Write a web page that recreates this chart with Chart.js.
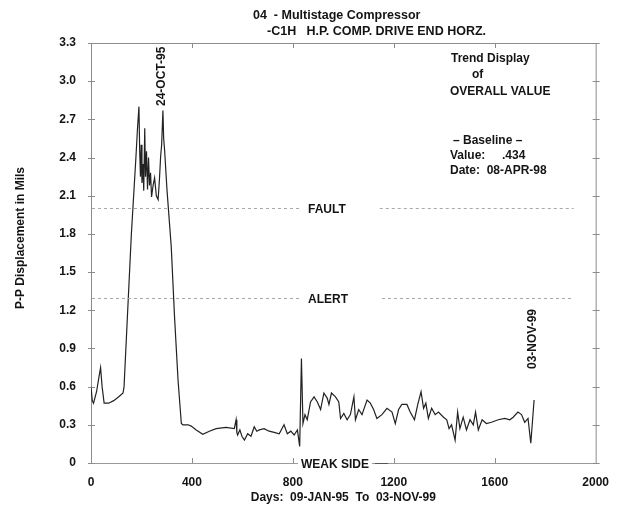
<!DOCTYPE html>
<html>
<head>
<meta charset="utf-8">
<script src="https://cdn.jsdelivr.net/npm/chart.js@4.4.0/dist/chart.umd.min.js"></script>
<style>
  html, body { margin: 0; padding: 0; background: #fff; }
</style>
</head>
<body>
<canvas id="trend_chart" width="621" height="514"></canvas>
<script>
// days since 09-JAN-95 and overall P-P displacement (mils)
var days = [0, 5, 10, 22, 32, 38, 44, 52, 70, 90, 110, 127, 131, 160, 178, 184, 190, 193, 196, 199,
    202, 206, 209, 213, 216, 220, 224, 228, 232, 236, 240, 246, 252, 259, 266, 271, 276, 280, 285, 288,
    292, 301, 318, 331, 345, 358, 364, 385, 397, 417, 443, 469, 496, 535, 568, 575, 578, 581, 590, 598,
    608, 621, 634, 647, 657, 667, 686, 706, 726, 746, 765, 778, 792, 805, 818, 827, 834, 840, 848, 857,
    870, 884, 897, 910, 923, 936, 943, 953, 969, 982, 989, 1002, 1015, 1028, 1042, 1048, 1061, 1074, 1094, 1107,
    1120, 1133, 1153, 1173, 1193, 1206, 1219, 1232, 1252, 1265, 1282, 1295, 1308, 1318, 1327, 1337, 1350, 1364, 1377, 1397,
    1410, 1419, 1429, 1443, 1453, 1462, 1475, 1488, 1502, 1515, 1524, 1535, 1550, 1567, 1587, 1614, 1640, 1660, 1673, 1692,
    1706, 1719, 1732, 1743, 1756];
var mils = [0.60, 0.49, 0.47, 0.56, 0.68, 0.75, 0.60, 0.47, 0.47, 0.49, 0.52, 0.55, 0.60, 1.80, 2.40, 2.62, 2.80, 2.45, 2.25, 2.50,
    2.20, 2.35, 2.14, 2.63, 2.25, 2.45, 2.15, 2.40, 2.18, 2.28, 2.09, 2.18, 2.24, 2.10, 2.07, 2.22, 2.41, 2.50, 2.77, 2.55,
    2.45, 2.15, 1.70, 1.15, 0.65, 0.31, 0.30, 0.30, 0.29, 0.26, 0.225, 0.25, 0.27, 0.28, 0.27, 0.34, 0.24, 0.22, 0.26, 0.21,
    0.18, 0.23, 0.21, 0.285, 0.25, 0.26, 0.27, 0.25, 0.24, 0.23, 0.30, 0.23, 0.25, 0.22, 0.26, 0.13, 0.82, 0.31, 0.38, 0.34,
    0.48, 0.52, 0.48, 0.42, 0.55, 0.51, 0.46, 0.55, 0.52, 0.48, 0.35, 0.39, 0.34, 0.38, 0.52, 0.34, 0.42, 0.38, 0.495, 0.47,
    0.42, 0.35, 0.38, 0.43, 0.40, 0.31, 0.42, 0.46, 0.46, 0.40, 0.34, 0.46, 0.56, 0.43, 0.47, 0.35, 0.43, 0.38, 0.40, 0.36,
    0.34, 0.27, 0.30, 0.18, 0.40, 0.27, 0.36, 0.26, 0.34, 0.30, 0.40, 0.26, 0.34, 0.31, 0.32, 0.34, 0.35, 0.34, 0.36, 0.40,
    0.38, 0.32, 0.35, 0.155, 0.495];

var xTicks = [0, 400, 800, 1200, 1600, 2000];
var xTickLabels = ['0', '400', '800', '1200', '1600', '2000'];
var yTicks = [0, 0.3, 0.6, 0.9, 1.2, 1.5, 1.8, 2.1, 2.4, 2.7, 3.0, 3.3];
var yTickLabels = ['0', '0.3', '0.6', '0.9', '1.2', '1.5', '1.8', '2.1', '2.4', '2.7', '3.0', '3.3'];

var limitLevels = [2.0, 1.3, 0];
var limitLabels = ['FAULT', 'ALERT', 'WEAK SIDE'];

var markerDays = [288, 1759];
var markerLabels = ['24-OCT-95', '03-NOV-99'];

var titleLines = ['04  - Multistage Compressor', '-C1H   H.P. COMP. DRIVE END HORZ.'];
var infoLines = ['Trend Display', 'of', 'OVERALL VALUE', '\u2013 Baseline \u2013', 'Value:     .434', 'Date:  08-APR-98'];

var FONT = "'Liberation Sans', Arial, sans-serif";
var INK = '#141414';
var AXIS = '#8c8c8c';

var decor = {
    id: 'decor',
    afterDraw: function (chart) {
        var ctx = chart.ctx;
        var a = chart.chartArea;
        var xs = chart.scales.x;
        var ys = chart.scales.y;
        var i, y, x;
        ctx.save();

        // top and right frame
        ctx.strokeStyle = AXIS;
        ctx.lineWidth = 1;
        ctx.beginPath();
        ctx.moveTo(a.left, a.top + 0.5);
        ctx.lineTo(a.right, a.top + 0.5);
        ctx.moveTo(a.right + 0.5, a.top);
        ctx.lineTo(a.right + 0.5, a.bottom);
        ctx.stroke();

        // tick marks
        ctx.beginPath();
        for (i = 0; i < yTicks.length; i++) {
            y = Math.round(ys.getPixelForValue(yTicks[i])) + 0.5;
            ctx.moveTo(a.left - 3, y); ctx.lineTo(a.left + 4, y);
            ctx.moveTo(a.right - 3, y); ctx.lineTo(a.right + 4, y);
        }
        for (i = 1; i < xTicks.length - 1; i++) {
            x = Math.round(xs.getPixelForValue(xTicks[i])) + 0.5;
            ctx.moveTo(x, a.top); ctx.lineTo(x, a.top + 5);
            ctx.moveTo(x, a.bottom); ctx.lineTo(x, a.bottom - 5);
        }
        ctx.stroke();

        // limit lines with their labels
        ctx.font = 'bold 12px ' + FONT;
        ctx.textBaseline = 'middle';
        ctx.textAlign = 'left';
        for (i = 0; i < limitLevels.length; i++) {
            y = Math.round(ys.getPixelForValue(limitLevels[i])) + 0.5;
            var tx = a.left + (i === 2 ? 210 : 217);
            var tw = ctx.measureText(limitLabels[i]).width;
            ctx.strokeStyle = '#a8a8a8';
            ctx.setLineDash([3, 3]);
            ctx.beginPath();
            if (i < 2) {
                ctx.moveTo(a.left + 1, y); ctx.lineTo(tx - 9, y);
                ctx.moveTo(tx + tw + 34, y); ctx.lineTo(a.right - 22, y);
            }
            ctx.stroke();
            ctx.setLineDash([]);
            ctx.fillStyle = '#fff';
            ctx.fillRect(tx - 3, y - 7, tw + 6, 14);
            if (i === 2) {
                ctx.strokeStyle = '#555';
                ctx.beginPath();
                ctx.moveTo(tx + tw + 6, y); ctx.lineTo(tx + tw + 19, y);
                ctx.stroke();
            }
            ctx.fillStyle = INK;
            ctx.fillText(limitLabels[i], tx, y + 1);
        }

        // vertical date markers
        ctx.font = 'bold 12px ' + FONT;
        for (i = 0; i < markerDays.length; i++) {
            x = xs.getPixelForValue(markerDays[i]) - 2;
            var base = i === 0 ? 106 : 369;
            var w = ctx.measureText(markerLabels[i]).width;
            ctx.save();
            ctx.translate(x, base);
            ctx.rotate(-Math.PI / 2);
            ctx.fillStyle = '#fff';
            ctx.fillRect(-2, -8, w + 4, 16);
            ctx.fillStyle = INK;
            ctx.textAlign = 'left';
            ctx.textBaseline = 'middle';
            ctx.fillText(markerLabels[i], 0, 0);
            ctx.restore();
        }

        // heading
        ctx.fillStyle = INK;
        ctx.textBaseline = 'middle';
        ctx.textAlign = 'left';
        ctx.font = 'bold 12.5px ' + FONT;
        ctx.fillText(titleLines[0], 253, 16);
        ctx.fillText(titleLines[1], 267, 32);

        // info block
        ctx.font = 'bold 12px ' + FONT;
        var infoX = [451, 472, 450, 453, 450, 450];
        var infoY = [59, 75, 92, 141, 156, 171];
        for (i = 0; i < infoLines.length; i++) {
            ctx.fillText(infoLines[i], infoX[i], infoY[i]);
        }

        // y axis title
        ctx.save();
        ctx.translate(21, 238);
        ctx.rotate(-Math.PI / 2);
        ctx.textAlign = 'center';
        ctx.font = 'bold 12px ' + FONT;
        ctx.fillText('P-P Displacement in Mils', 0, 0);
        ctx.restore();

        ctx.restore();
    }
};

new Chart(document.getElementById('trend_chart').getContext('2d'), {
    type: 'line',
    data: {
        datasets: [{
            data: days.map(function (d, i) { return { x: d, y: mils[i] }; }),
            borderColor: '#222',
            borderWidth: 1.2,
            pointRadius: 0,
            tension: 0,
            fill: false
        }]
    },
    options: {
        responsive: false,
        animation: false,
        devicePixelRatio: 1,
        layout: { padding: { top: 43, right: 22, left: 0, bottom: 0 } },
        plugins: { legend: { display: false }, tooltip: { enabled: false } },
        scales: {
            x: {
                type: 'linear',
                min: 0,
                max: 2000,
                afterBuildTicks: function (s) { s.ticks = xTicks.map(function (v) { return { value: v }; }); },
                afterFit: function (s) { s.height = 51; },
                grid: { display: false, drawTicks: false },
                border: { display: true, color: '#9a9a9a', dash: [3, 2] },
                ticks: {
                    padding: 12,
                    color: INK,
                    maxRotation: 0,
                    font: { family: FONT, size: 12, weight: 'bold' },
                    callback: function (v, idx) { return xTickLabels[idx]; }
                },
                title: {
                    display: true,
                    text: 'Days:  09-JAN-95  To  03-NOV-99',
                    color: INK,
                    font: { family: FONT, size: 12, weight: 'bold' },
                    padding: { top: 0, bottom: 9 }
                }
            },
            y: {
                type: 'linear',
                min: 0,
                max: 3.3,
                afterBuildTicks: function (s) { s.ticks = yTicks.map(function (v) { return { value: v }; }); },
                afterFit: function (s) { s.width = 91; },
                grid: { display: false, drawTicks: false },
                border: { display: true, color: AXIS },
                ticks: {
                    padding: 15,
                    color: INK,
                    font: { family: FONT, size: 12, weight: 'bold' },
                    callback: function (v, idx) { return yTickLabels[idx]; }
                }
            }
        }
    },
    plugins: [decor]
});
</script>
</body>
</html>
